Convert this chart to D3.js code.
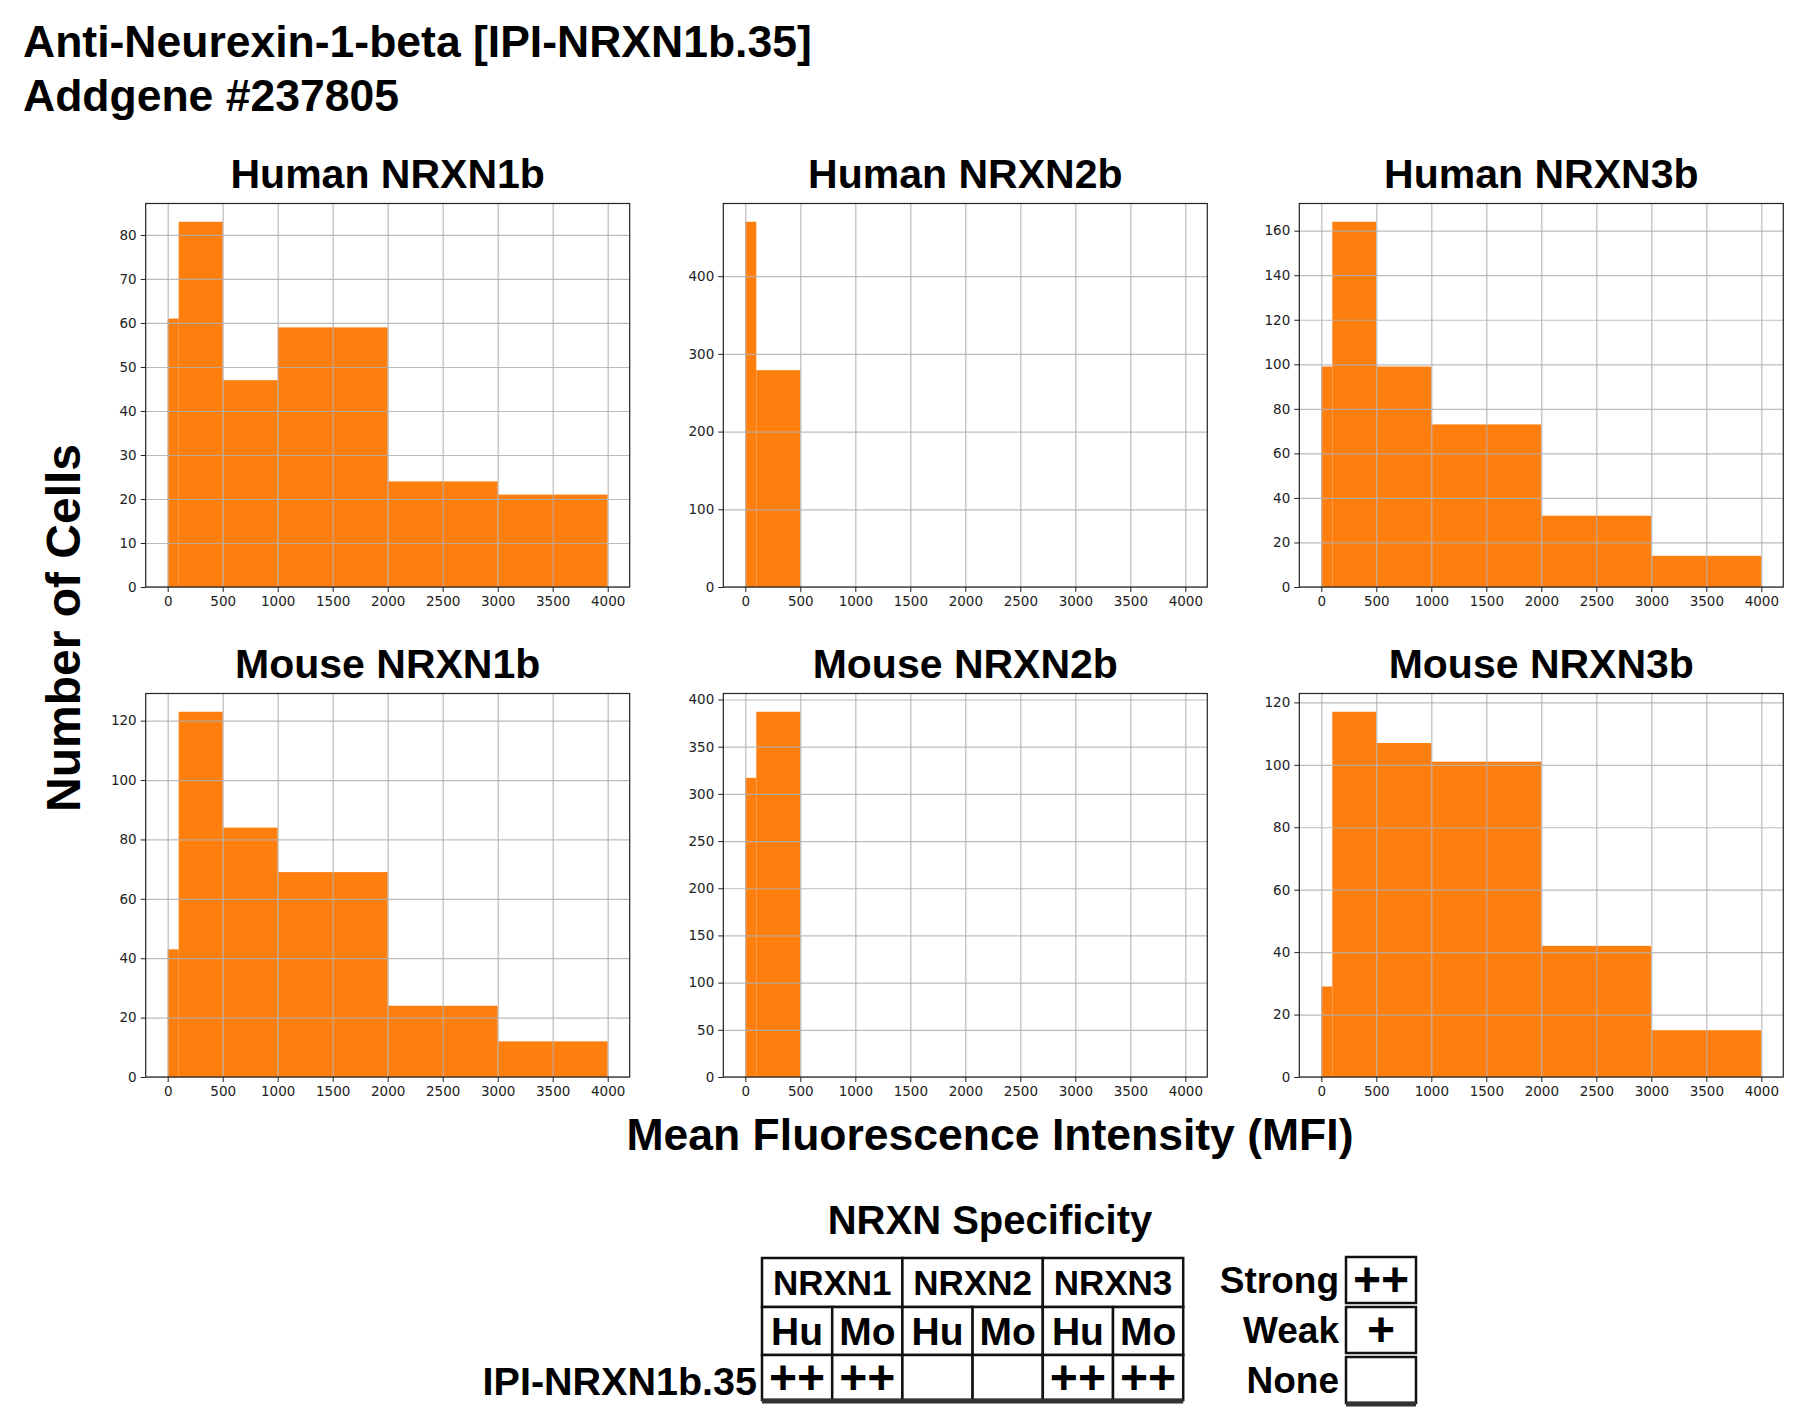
<!DOCTYPE html>
<html lang="en">
<head>
<meta charset="utf-8">
<title>Anti-Neurexin-1-beta [IPI-NRXN1b.35]</title>
<script src="https://d3js.org/d3.v7.min.js"></script>
<style>
  body { margin: 0; background: #fff; }
  text { font-family: "Liberation Sans", Arial, sans-serif; fill: #000; }
  .tick text { font-family: "DejaVu Sans", sans-serif; font-size: 13.5px; fill: #222; }
</style>
</head>
<body>
<script>
// ---- data ----
var binEdges = [0, 100, 500, 1000, 2000, 3000, 4000];
var panelTitles = ["Human NRXN1b", "Human NRXN2b", "Human NRXN3b",
                   "Mouse NRXN1b", "Mouse NRXN2b", "Mouse NRXN3b"];
var humanNrxn1 = [61, 83, 47, 59, 24, 21];
var humanNrxn2 = [470, 279, 0, 0, 0, 0];
var humanNrxn3 = [99, 164, 99, 73, 32, 14];
var mouseNrxn1 = [43, 123, 84, 69, 24, 12];
var mouseNrxn2 = [317, 387, 0, 0, 0, 0];
var mouseNrxn3 = [29, 117, 107, 101, 42, 15];
var panelCounts = [humanNrxn1, humanNrxn2, humanNrxn3, mouseNrxn1, mouseNrxn2, mouseNrxn3];

var xTickValues = [0, 500, 1000, 1500, 2000, 2500, 3000, 3500, 4000];
var yTickValues = [
  [0, 10, 20, 30, 40, 50, 60, 70, 80],
  [0, 100, 200, 300, 400],
  [0, 20, 40, 60, 80, 100, 120, 140, 160],
  [0, 20, 40, 60, 80, 100, 120],
  [0, 50, 100, 150, 200, 250, 300, 350, 400],
  [0, 20, 40, 60, 80, 100, 120]
];

// specificity table
var geneGroups = ["NRXN1", "NRXN2", "NRXN3"];
var species = ["Hu", "Mo", "Hu", "Mo", "Hu", "Mo"];
var cloneName = "IPI-NRXN1b.35";
var cloneScores = ["++", "++", "", "", "++", "++"];
var legendLabels = ["Strong", "Weak", "None"];
var legendSymbols = ["++", "+", ""];

// ---- layout ----
var W = 1800, H = 1418;
var colLeft = [145.7, 723.3, 1299.3];
var rowTop = [203.5, 693.5];
var pw = 484, ph = 383.5;
var orange = "#ff7f0e";

var svg = d3.select("body").append("svg")
  .attr("width", W).attr("height", H);

// main title
svg.append("text").attr("x", 23).attr("y", 57)
  .attr("font-size", 44.5).attr("font-weight", "bold")
  .text("Anti-Neurexin-1-beta [IPI-NRXN1b.35]");
svg.append("text").attr("x", 23).attr("y", 111)
  .attr("font-size", 44.5).attr("font-weight", "bold")
  .text("Addgene #237805");

// panels
panelCounts.forEach(function(counts, i) {
  var left = colLeft[i % 3], top = rowTop[Math.floor(i / 3)];
  var g = svg.append("g").attr("transform", "translate(" + left + "," + top + ")");

  var x = d3.scaleLinear().domain([-200, 4200]).range([0, pw]);
  var y = d3.scaleLinear().domain([0, d3.max(counts) * 1.05]).range([ph, 0]);

  var bins = counts.map(function(c, j) {
    return { x0: binEdges[j], x1: binEdges[j + 1], n: c };
  }).filter(function(b) { return b.n > 0; });

  g.selectAll("rect.bar").data(bins).enter().append("rect")
    .attr("class", "bar")
    .attr("x", function(d) { return x(d.x0); })
    .attr("width", function(d) { return x(d.x1) - x(d.x0); })
    .attr("y", function(d) { return y(d.n); })
    .attr("height", function(d) { return ph - y(d.n); })
    .attr("fill", orange);

  // grid on top of the bars
  var gx = g.append("g").attr("transform", "translate(0," + ph + ")")
    .call(d3.axisBottom(x).tickValues(xTickValues).tickSize(-ph).tickFormat(""));
  var gy = g.append("g")
    .call(d3.axisLeft(y).tickValues(yTickValues[i]).tickSize(-pw).tickFormat(""));
  [gx, gy].forEach(function(a) {
    a.select(".domain").remove();
    a.selectAll("line").attr("stroke", "#b0b0b0").attr("stroke-width", 1.2).attr("opacity", 0.85);
  });

  // axes
  var ax = g.append("g").attr("transform", "translate(0," + ph + ")")
    .call(d3.axisBottom(x).tickValues(xTickValues).tickSize(5).tickPadding(4).tickFormat(d3.format("d")));
  var ay = g.append("g")
    .call(d3.axisLeft(y).tickValues(yTickValues[i]).tickSize(5).tickPadding(4).tickFormat(d3.format("d")));
  [ax, ay].forEach(function(a) {
    a.select(".domain").remove();
    a.selectAll("line").attr("stroke", "#222");
  });

  // frame
  g.append("rect").attr("width", pw).attr("height", ph)
    .attr("fill", "none").attr("stroke", "#222").attr("stroke-width", 1.2);

  // panel title
  g.append("text").attr("x", pw / 2).attr("y", -16)
    .attr("text-anchor", "middle").attr("font-size", 41).attr("font-weight", "bold")
    .text(panelTitles[i]);
});

// shared axis labels
svg.append("text")
  .attr("transform", "translate(80,628) rotate(-90)")
  .attr("text-anchor", "middle").attr("font-size", 48).attr("font-weight", "bold")
  .text("Number of Cells");
svg.append("text").attr("x", 990).attr("y", 1150)
  .attr("text-anchor", "middle").attr("font-size", 44.5).attr("font-weight", "bold")
  .text("Mean Fluorescence Intensity (MFI)");

// ---- specificity table ----
svg.append("text").attr("x", 990).attr("y", 1234)
  .attr("text-anchor", "middle").attr("font-size", 40).attr("font-weight", "bold")
  .text("NRXN Specificity");

var tx0 = 762, cw = 70.2;
var rowY = [1258, 1307, 1355], rowH = [49, 48, 45];
var tbl = svg.append("g");

// header row: gene groups
tbl.selectAll("rect.gene").data(geneGroups).enter().append("rect")
  .attr("x", function(d, i) { return tx0 + i * 2 * cw; })
  .attr("y", rowY[0]).attr("width", 2 * cw).attr("height", rowH[0])
  .attr("fill", "#fff").attr("stroke", "#111").attr("stroke-width", 2.5);
tbl.selectAll("text.gene").data(geneGroups).enter().append("text")
  .attr("x", function(d, i) { return tx0 + i * 2 * cw + cw; })
  .attr("y", rowY[0] + 37).attr("text-anchor", "middle")
  .attr("font-size", 35).attr("font-weight", "bold")
  .text(function(d) { return d; });

// species row
tbl.selectAll("rect.sp").data(species).enter().append("rect")
  .attr("x", function(d, i) { return tx0 + i * cw; })
  .attr("y", rowY[1]).attr("width", cw).attr("height", rowH[1])
  .attr("fill", "#fff").attr("stroke", "#111").attr("stroke-width", 2.5);
tbl.selectAll("text.sp").data(species).enter().append("text")
  .attr("x", function(d, i) { return tx0 + i * cw + cw / 2; })
  .attr("y", rowY[1] + 38).attr("text-anchor", "middle")
  .attr("font-size", 39).attr("font-weight", "bold")
  .text(function(d) { return d; });

// score row
tbl.selectAll("rect.sc").data(cloneScores).enter().append("rect")
  .attr("x", function(d, i) { return tx0 + i * cw; })
  .attr("y", rowY[2]).attr("width", cw).attr("height", rowH[2])
  .attr("fill", "#fff").attr("stroke", "#111").attr("stroke-width", 2.5);
tbl.selectAll("text.sc").data(cloneScores).enter().append("text")
  .attr("x", function(d, i) { return tx0 + i * cw + cw / 2; })
  .attr("y", rowY[2] + 39).attr("text-anchor", "middle")
  .attr("font-size", 48).attr("font-weight", "bold")
  .text(function(d) { return d; });
tbl.append("line")
  .attr("x1", tx0).attr("x2", tx0 + 6 * cw)
  .attr("y1", rowY[2] + rowH[2] + 1).attr("y2", rowY[2] + rowH[2] + 1)
  .attr("stroke", "#333").attr("stroke-width", 5);

tbl.append("text").attr("x", 757).attr("y", rowY[2] + 40)
  .attr("text-anchor", "end").attr("font-size", 39.5).attr("font-weight", "bold")
  .text(cloneName);

// ---- legend ----
var lx = 1346, lw = 70;
var legY = [1257, 1307, 1357], legH = 46;
var leg = svg.append("g");
leg.selectAll("rect").data(legendSymbols).enter().append("rect")
  .attr("x", lx).attr("y", function(d, i) { return legY[i]; })
  .attr("width", lw).attr("height", legH)
  .attr("fill", "#fff").attr("stroke", "#111").attr("stroke-width", 2.5);
leg.selectAll("text.sym").data(legendSymbols).enter().append("text")
  .attr("x", lx + lw / 2).attr("y", function(d, i) { return legY[i] + 39; })
  .attr("text-anchor", "middle").attr("font-size", 48).attr("font-weight", "bold")
  .text(function(d) { return d; });
leg.selectAll("text.lab").data(legendLabels).enter().append("text")
  .attr("x", 1339).attr("y", function(d, i) { return legY[i] + 36; })
  .attr("text-anchor", "end").attr("font-size", 37).attr("font-weight", "bold")
  .text(function(d) { return d; });
leg.append("line")
  .attr("x1", lx).attr("x2", lx + lw)
  .attr("y1", legY[2] + legH + 1).attr("y2", legY[2] + legH + 1)
  .attr("stroke", "#333").attr("stroke-width", 5);
</script>
</body>
</html>
